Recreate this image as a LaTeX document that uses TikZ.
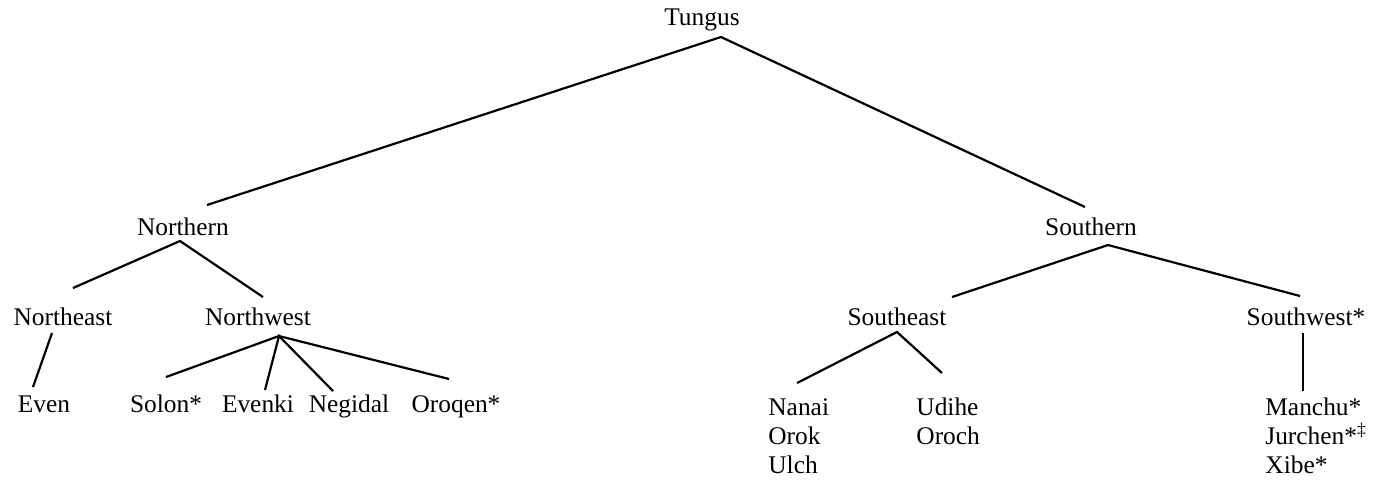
\documentclass[tikz,border=0pt]{standalone}
\usepackage{fontspec}
\setmainfont{Liberation Serif}
\usetikzlibrary{calc}
\begin{document}
\begin{tikzpicture}[x=0.5pt,y=-0.5pt,
  lang/.style={inner sep=0pt,font=\fontsize{12.7pt}{15pt}\selectfont},
  mid/.style={lang,anchor=base},
  leftset/.style={lang,anchor=base west},
  branch/.style={line width=1.1pt}]
\useasboundingbox (0,0) rectangle (1381,479);

% labels
\node[mid] (tungus)    at (702,25)  {Tungus};
\node[mid] (northern)  at (183,235) {Northern};
\node[mid] (southern)  at (1091,235) {Southern};
\node[mid] (northeast) at (63,325)  {Northeast};
\node[mid] (northwest) at (258,325) {Northwest};
\node[mid] (southeast) at (897,325) {Southeast};
\node[mid] (southwest) at (1306,325) {Southwest*};
\node[mid] (even)      at (44,412)  {Even};
\node[mid] (solon)     at (166,412) {Solon*};
\node[mid] (evenki)    at (258,412) {Evenki};
\node[mid] (negidal)   at (349,412) {Negidal};
\node[mid] (oroqen)    at (456,412) {Oroqen*};
\node[leftset] (nanai)  at (768,415) {Nanai};
\node[leftset] (orok)   at (768,444) {Orok};
\node[leftset] (ulch)   at (768,473) {Ulch};
\node[leftset] (udihe)  at (916,415) {Udihe};
\node[leftset] (oroch)  at (916,444) {Oroch};
\node[leftset] (manchu)  at (1265,415) {Manchu*};
\node[leftset] (jurchen) at (1265,444) {Jurchen*\textsuperscript{‡}};
\node[leftset] (xibe)    at (1265,473) {Xibe*};

% branches
\draw[branch] ($(northern.base)+(24,-30)$) -- ($(tungus.base)+(19,12)$) -- ($(southern.base)+(-6,-28)$);
\draw[branch] ($(northeast.base)+(10,-37)$) -- ($(northern.base)+(-3,6)$) -- ($(northwest.base)+(5,-28)$);
\draw[branch] ($(southeast.base)+(55,-28)$) -- ($(southern.base)+(17,10)$) -- ($(southwest.base)+(-6,-29)$);
\draw[branch] ($(northeast.base)+(-11,8)$) -- ($(even.base)+(-11,-25)$);
\draw[branch] ($(solon.base)+(0,-35)$) -- ($(northwest.base)+(21,11)$) -- ($(oroqen.base)+(-7,-33)$);
\draw[branch] ($(evenki.base)+(7,-22)$) -- ($(northwest.base)+(21,11)$) -- ($(negidal.base)+(-16,-21)$);
\draw[branch] ($(nanai.base west)+(29,-32)$) -- ($(southeast.base)+(0,7)$) -- ($(udihe.base west)+(26,-42)$);
\draw[branch] ($(southwest.base)+(-3,8)$) -- ($(manchu.base west)+(38,-24)$);
\end{tikzpicture}
\end{document}
